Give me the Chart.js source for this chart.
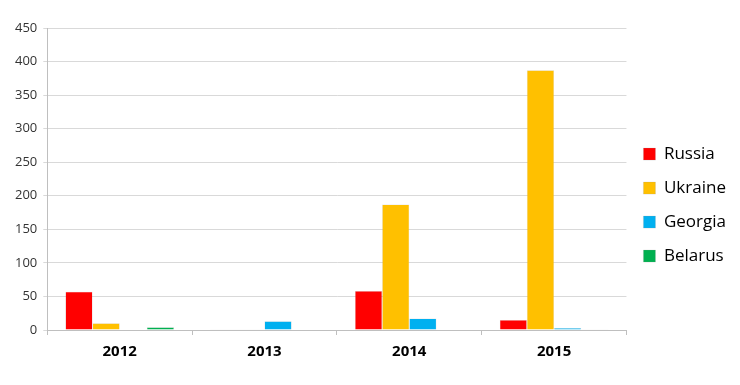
<!DOCTYPE html>
<html>
<head>
<meta charset="utf-8">
<script src="https://cdn.jsdelivr.net/npm/chart.js@4"></script>
<style>
  html, body { margin: 0; padding: 0; background: #fff; }
  #wrap { width: 740px; height: 385px; }
</style>
</head>
<body>
<div id="wrap"><canvas id="chart"></canvas></div>
<script>
// Values
const years = ['2012', '2013', '2014', '2015'];
const russia = [57, 0.5, 58, 15];
const ukraine = [10, 1, 187, 387];
const georgia = [0, 13, 17, 3];
const belarus = [4, 0, 0, 1];
const yTicks = [0, 50, 100, 150, 200, 250, 300, 350, 400, 450];

const fontFamily = "'Open Sans', 'Liberation Sans', sans-serif";

function makeSet(label, data, color) {
  return {
    label: label,
    data: data,
    backgroundColor: color,
    borderColor: 'rgba(150,150,150,0.4)',
    borderWidth: 0.5,
    categoryPercentage: 0.75,
    barPercentage: 1.0
  };
}

const ctx = document.getElementById('chart').getContext('2d');
new Chart(ctx, {
  type: 'bar',
  data: {
    labels: years,
    datasets: [
      makeSet('Russia', russia, '#FF0000'),
      makeSet('Ukraine', ukraine, '#FFC000'),
      makeSet('Georgia', georgia, '#00B0F0'),
      makeSet('Belarus', belarus, '#00B050')
    ]
  },
  options: {
    responsive: true,
    maintainAspectRatio: false,
    animation: false,
    layout: {
      padding: { top: 28, right: 4, bottom: 16, left: 9 }
    },
    plugins: {
      legend: {
        position: 'right',
        // empty title only nudges the legend items down a little
        title: { display: true, text: ' ', font: { size: 1 }, padding: 6 },
        labels: {
          boxWidth: 12,
          boxHeight: 12,
          padding: 17,
          color: '#000',
          font: { family: fontFamily, size: 17 }
        }
      },
      tooltip: { enabled: false }
    },
    scales: {
      x: {
        grid: {
          offset: true,
          drawOnChartArea: false,
          drawTicks: true,
          tickLength: 5,
          color: '#bfbfbf'
        },
        border: { color: '#bfbfbf' },
        ticks: {
          color: '#000',
          padding: 8,
          font: { family: fontFamily, size: 15, weight: 'bold' }
        }
      },
      y: {
        min: 0,
        max: 450,
        afterBuildTicks: function (axis) {
          axis.ticks = yTicks.map(v => ({ value: v }));
        },
        grid: {
          color: '#d9d9d9',
          tickLength: 4
        },
        border: { color: '#bfbfbf' },
        ticks: {
          color: '#333',
          padding: 6,
          font: { family: fontFamily, size: 13 }
        }
      }
    }
  }
});
</script>
</body>
</html>
